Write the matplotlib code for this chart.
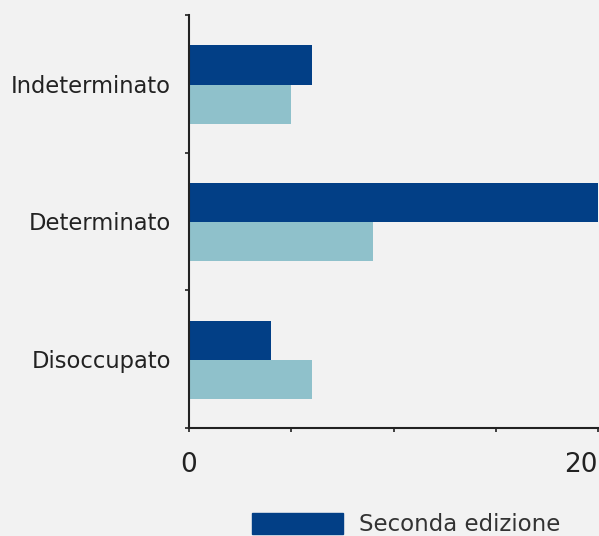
import matplotlib
matplotlib.use("Agg")
import matplotlib.pyplot as plt
from matplotlib.patches import Patch

categories = ["Indeterminato", "Determinato", "Disoccupato"]
seconda = [6, 20, 4]
prima = [5, 9, 6]
series_names = ["Seconda edizione", "Prima edizione"]
xticks = [0, 5, 10, 15, 20]
xticklabels = ["0", "", "", "", "20"]

dark = "#023f86"
light = "#8fc1cb"
bg = "#f2f2f2"
txt = "#222222"

fig = plt.figure(figsize=(5.99, 5.36), dpi=100, facecolor=bg)
ax = fig.add_axes([189/599, 1-428/536, (598-189)/599, (428-15)/536])
ax.set_facecolor(bg)

n = len(categories)
pos = [n - 1 - i for i in range(n)]
h = 0.285
off = -0.005
ax.barh([p + h/2 + off for p in pos], seconda, height=h, color=dark, label=series_names[0])
ax.barh([p - h/2 + off for p in pos], prima, height=h, color=light, label=series_names[1])

ax.set_xlim(0, 20)
ax.set_ylim(-0.5, n - 0.5)
ax.set_xticks(xticks)
ax.set_xticklabels(xticklabels, fontsize=19, color=txt)
ax.get_xticklabels()[-1].set_horizontalalignment("right")
ax.tick_params(axis="x", length=3, width=1.2, color=txt, pad=14)

ax.set_yticks([-0.5 + i for i in range(n + 1)])
ax.set_yticklabels([])
ax.set_yticks(pos, minor=True)
ax.set_yticklabels(categories, minor=True, fontsize=16.3, color=txt)
ax.tick_params(axis="y", which="major", length=3, width=1.2, color=txt)
ax.tick_params(axis="y", which="minor", length=0, pad=13)

for s in ["top", "right"]:
    ax.spines[s].set_visible(False)
for s in ["left", "bottom"]:
    ax.spines[s].set_color(txt)
    ax.spines[s].set_linewidth(1.5)

handles = [Patch(color=dark)]
fig.legend(handles, series_names[:1], loc="upper left",
           bbox_to_anchor=(252/599, 1 - 513/536), frameon=False,
           fontsize=16.5, handlelength=3.95, handleheight=1.0,
           borderpad=0, borderaxespad=0, handletextpad=0.7,
           labelcolor="#333333")

fig.savefig("out.png", dpi=100, facecolor=bg)
